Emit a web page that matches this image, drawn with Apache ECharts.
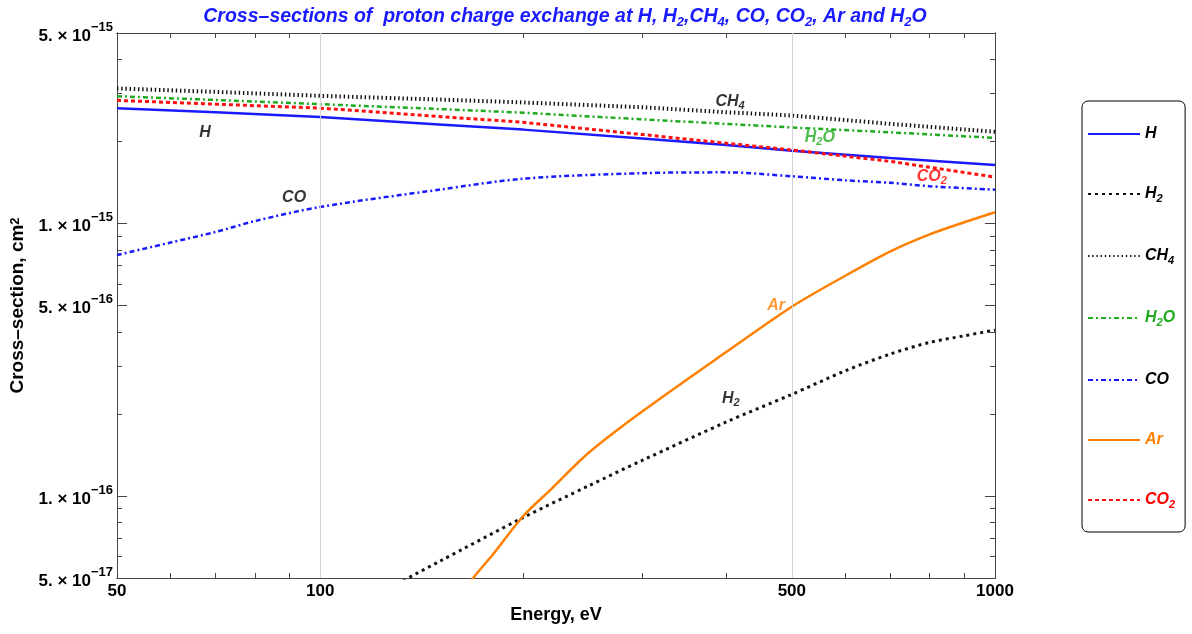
<!DOCTYPE html>
<html><head><meta charset="utf-8">
<script src="https://cdn.jsdelivr.net/npm/echarts@6/dist/echarts.min.js"></script>
<style>html,body{margin:0;padding:0;background:#fff}#c{width:1192px;height:634px}</style>
</head><body><div id="c"></div>
<script>
// ---------------- data ----------------
const energyTop = [50, 70, 100, 150, 200, 300, 400, 500, 700, 1000];
const valH   = [2.65e-15, 2.56e-15, 2.46e-15, 2.31e-15, 2.21e-15, 2.05e-15, 1.94e-15, 1.85e-15, 1.74e-15, 1.64e-15];
const valCH4 = [3.13e-15, 3.04e-15, 2.94e-15, 2.85e-15, 2.78e-15, 2.67e-15, 2.56e-15, 2.49e-15, 2.32e-15, 2.17e-15];
const valH2O = [2.93e-15, 2.84e-15, 2.74e-15, 2.63e-15, 2.55e-15, 2.41e-15, 2.32e-15, 2.25e-15, 2.16e-15, 2.06e-15];
const valCO2 = [2.83e-15, 2.74e-15, 2.65e-15, 2.47e-15, 2.35e-15, 2.12e-15, 1.97e-15, 1.86e-15, 1.69e-15, 1.48e-15];
const energyCO = [50, 60, 70, 80, 100, 150, 200, 300, 400, 500, 600, 700, 800, 1000];
const valCO  = [7.66e-16, 8.51e-16, 9.31e-16, 1.02e-15, 1.15e-15, 1.33e-15, 1.46e-15, 1.53e-15, 1.54e-15, 1.49e-15, 1.44e-15, 1.41e-15, 1.37e-15, 1.33e-15];
const energyAr = [160, 170, 180, 200, 220, 250, 300, 400, 500, 600, 700, 800, 900, 1000];
const valAr  = [4.2e-17, 5.13e-17, 6.07e-17, 8.44e-17, 1.06e-16, 1.44e-16, 2.04e-16, 3.38e-16, 4.95e-16, 6.43e-16, 7.9e-16, 9.12e-16, 1.01e-15, 1.10e-15];
const energyH2 = [130, 150, 200, 250, 300, 400, 500, 600, 700, 800, 900, 1000];
const valH2  = [4.76e-17, 5.74e-17, 8.34e-17, 1.09e-16, 1.35e-16, 1.87e-16, 2.36e-16, 2.88e-16, 3.32e-16, 3.66e-16, 3.87e-16, 4.06e-16];

const xMajorTicks = [50, 100, 500, 1000];
const xMinorTicks = [60, 70, 80, 90, 200, 300, 400, 600, 700, 800, 900];
const yMajorTicks = [5e-17, 1e-16, 5e-16, 1e-15, 5e-15];
const yMinorTicks = [6e-17, 7e-17, 8e-17, 9e-17, 2e-16, 3e-16, 4e-16, 6e-16, 7e-16, 8e-16, 9e-16, 2e-15, 3e-15, 4e-15];
const xGrid = [100, 500];
const yGrid = [1e-16, 5e-16, 1e-15];

const legendNames  = ['H', 'H2', 'CH4', 'H2O', 'CO', 'Ar', 'CO2'];
const legendLabels = ['H', 'H{s|2}', 'CH{s|4}', 'H{s|2}O', 'CO', 'Ar', 'CO{s|2}'];
const legendTextColors = ['#000', '#000', '#000', '#1faa1f', '#000', '#ff8000', '#ff0000'];

const annoLabels = ['H', 'CO', 'CH{s|4}', 'H{s|2}O', 'CO{s|2}', 'Ar', 'H{s|2}'];
const annoEnergy = [67.5, 91.5, 405, 550, 806, 474, 406];
const annoValue  = [2.15e-15, 1.24e-15, 2.81e-15, 2.06e-15, 1.49e-15, 4.98e-16, 2.27e-16];
const annoColors = ['#000', '#000', '#000', '#1faa1f', '#ff0000', '#ff8000', '#000'];

const titleText = 'Cross–sections of  proton charge exchange at H, H{s|2},CH{s|4}, CO, CO{s|2}, Ar and H{s|2}O';

// ---------------- styles ----------------
const FONT = "'Liberation Sans',Arial,sans-serif";
const AX = '#444';
const pairs = (xs, ys) => xs.map((x, i) => [x, ys[i]]);

function subRich(size, color) {
  const base = {fontFamily: FONT, fontWeight: 'bold', fontStyle: 'italic'};
  if (color) base.color = color;
  return {
    n: Object.assign({fontSize: size, lineHeight: size + 4}, base),
    s: Object.assign({fontSize: Math.round(size * 0.68), lineHeight: Math.round(size * 0.68), verticalAlign: 'bottom'}, base)
  };
}
function wrapRich(t) {
  return t.split(/(\{s\|[^}]*\})/).filter(p => p.length).map(p => p.startsWith('{s|') ? p : '{n|' + p + '}').join('');
}

function xAxisDef(pos, ticks, len, labels) {
  return {
    type: 'log', logBase: 10, min: 50, max: 1000, position: pos,
    name: labels ? 'Energy, eV' : '', nameLocation: 'middle', nameGap: 28,
    nameTextStyle: {fontFamily: FONT, fontWeight: 'bold', fontSize: 18, color: '#000'},
    axisLine: {show: true, onZero: false, lineStyle: {color: AX, width: 1}},
    axisTick: {show: true, inside: true, length: len, customValues: ticks, lineStyle: {color: AX, width: 1}},
    axisLabel: labels ? {show: true, customValues: xMajorTicks, margin: 5, fontFamily: FONT, fontWeight: 'bold', fontSize: 17, color: '#000',
      formatter: v => String(Math.round(v))} : {show: false},
    splitLine: {show: false}, minorTick: {show: false}, minorSplitLine: {show: false}
  };
}
function yLabel(v) {
  const e = Math.floor(Math.log10(v) + 1e-9);
  const m = Math.round(v / Math.pow(10, e));
  return '{b|' + m + '. × 10}{p|−' + (-e) + '}';
}
function yAxisDef(pos, ticks, len, labels) {
  return {
    type: 'log', logBase: 10, min: 5e-17, max: 5e-15, position: pos,
    name: labels ? 'Cross–section, cm{p|2}' : '', nameLocation: 'middle', nameGap: 84, nameRotate: 90,
    nameTextStyle: {fontFamily: FONT, fontWeight: 'bold', fontSize: 19, color: '#000',
      rich: {p: {fontFamily: FONT, fontWeight: 'bold', fontSize: 13, verticalAlign: 'top', lineHeight: 13}}},
    axisLine: {show: true, onZero: false, lineStyle: {color: AX, width: 1}},
    axisTick: {show: true, inside: true, length: len, customValues: ticks, lineStyle: {color: AX, width: 1}},
    axisLabel: labels ? {show: true, customValues: yMajorTicks, margin: 4, formatter: yLabel, color: '#000',
      rich: {
        b: {fontFamily: FONT, fontWeight: 'bold', fontSize: 17, lineHeight: 25, verticalAlign: 'bottom', color: '#000', padding: [0, 0, 1, 0]},
        p: {fontFamily: FONT, fontWeight: 'bold', fontSize: 13, lineHeight: 13, verticalAlign: 'top', color: '#000'}
      }} : {show: false},
    splitLine: {show: false}, minorTick: {show: false}, minorSplitLine: {show: false}
  };
}

function lineSeries(name, data, color, width, dash, smooth) {
  return {
    name, type: 'line', data, xAxisIndex: 0, yAxisIndex: 0, symbol: 'none', showSymbol: false,
    smooth: smooth || false, clip: true, z: 3,
    lineStyle: {color, width, type: dash || 'solid', cap: 'butt'},
    itemStyle: {color}
  };
}

const chart = echarts.init(document.getElementById('c'), null, {renderer: 'canvas'});
const option = {
  animation: false,
  backgroundColor: '#fff',
  title: {
    text: wrapRich(titleText), left: 560, top: 0, textAlign: 'center',
    textStyle: {rich: subRich(19.5, '#1a1aff')}
  },
  grid: {left: 117, right: 197, top: 33, bottom: 56, containLabel: false},
  legend: {
    orient: 'vertical', left: 1082, top: 101,
    itemWidth: 52, itemHeight: 14, itemGap: 44,
    padding: [25, 10, 22, 5],
    borderColor: '#000', borderWidth: 1, borderRadius: 6,
    itemStyle: {opacity: 0},
    data: legendNames.map((n, i) => ({name: n, textStyle: {rich: subRich(16, legendTextColors[i])}})),
    formatter: n => wrapRich(legendLabels[legendNames.indexOf(n)]),
    textStyle: {rich: subRich(16)}
  },
  xAxis: [
    xAxisDef('bottom', xMajorTicks, 10, true),
    xAxisDef('bottom', xMinorTicks, 5, false),
    xAxisDef('top', xMajorTicks, 10, false),
    xAxisDef('top', xMinorTicks, 5, false)
  ],
  yAxis: [
    yAxisDef('left', yMajorTicks, 10, true),
    yAxisDef('left', yMinorTicks, 5, false),
    yAxisDef('right', yMajorTicks, 10, false),
    yAxisDef('right', yMinorTicks, 5, false)
  ],
  series: [
    {
      name: '_grid', type: 'line', data: [], xAxisIndex: 0, yAxisIndex: 0, z: 1, symbol: 'none',
      markLine: {
        silent: true, symbol: 'none', label: {show: false}, animation: false,
        lineStyle: {color: '#d2d2d2', width: 1, type: 'solid'},
        data: xGrid.map(v => ({xAxis: v})).concat(yGrid.map(v => ({yAxis: v})))
      }
    },
    lineSeries('H', pairs(energyTop, valH), '#1a1aff', 2.5),
    lineSeries('H2', pairs(energyH2, valH2), '#111', 3, [3, 4], 0.3),
    lineSeries('CH4', pairs(energyTop, valCH4), '#111', 4, [1.4, 2.8]),
    lineSeries('H2O', pairs(energyTop, valH2O), '#1faa1f', 2.5, [5, 3, 2, 3]),
    lineSeries('CO', pairs(energyCO, valCO), '#1a1aff', 2.5, [5, 3, 2, 3], 0.3),
    lineSeries('Ar', pairs(energyAr, valAr), '#ff8000', 2.5, 'solid', 0.3),
    lineSeries('CO2', pairs(energyTop, valCO2), '#ff1010', 3, [4, 3]),
    {
      name: '_labels', type: 'scatter', xAxisIndex: 0, yAxisIndex: 0, z: 5,
      symbol: 'circle', symbolSize: 1, itemStyle: {color: 'rgba(0,0,0,0)'}, silent: true,
      data: annoEnergy.map((e, i) => ({
        value: [e, annoValue[i]],
        label: {show: true, position: 'inside', formatter: wrapRich(annoLabels[i]), rich: subRich(16, annoColors[i])}
      }))
    }
  ]
};
chart.setOption(option);
</script>
</body></html>
